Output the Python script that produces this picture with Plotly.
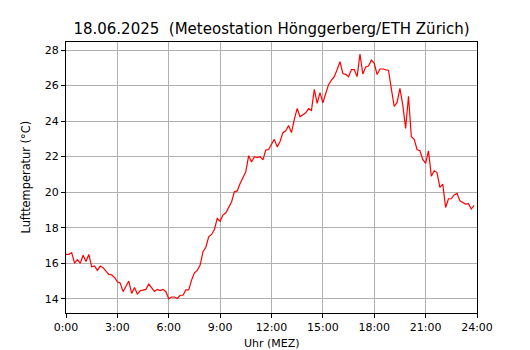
import plotly.graph_objects as go

# 10-minute temperature readings, 0:00 .. 23:50 (one row per hour)
temps_by_hour = [
    [16.5, 16.5, 16.6, 16.0, 16.2, 16.0],        # 0
    [16.45, 16.1, 16.5, 15.8, 15.85, 15.6],      # 1
    [15.84, 15.75, 15.56, 15.37, 15.35, 15.2],   # 2
    [14.96, 14.88, 14.4, 14.75, 15.0, 14.3],     # 3
    [14.64, 14.27, 14.45, 14.49, 14.53, 14.83],  # 4
    [14.64, 14.42, 14.53, 14.46, 14.53, 14.4],   # 5
    [14.0, 14.1, 14.1, 14.02, 14.2, 14.2],       # 6
    [14.5, 14.5, 15.05, 15.46, 15.6, 15.9],      # 7
    [16.65, 16.9, 17.49, 17.62, 17.9, 18.52],    # 8
    [18.37, 18.71, 18.84, 19.18, 19.45, 20.02],  # 9
    [20.07, 20.49, 20.78, 21.15, 22.05, 21.7],   # 10
    [22.0, 21.95, 22.0, 21.82, 22.37, 22.4],     # 11
    [22.7, 22.97, 22.55, 22.85, 23.35, 23.45],   # 12
    [23.75, 23.35, 24.1, 24.71, 24.24, 24.35],   # 13
    [24.47, 24.7, 24.6, 25.78, 25.0, 25.6],      # 14
    [25.03, 25.55, 26.05, 26.3, 26.5, 26.9],     # 15
    [27.34, 26.68, 26.63, 26.5, 26.9, 26.9],     # 16
    [26.5, 27.77, 26.65, 27.04, 27.1, 27.43],    # 17
    [27.25, 26.62, 26.93, 26.93, 26.9, 26.85],   # 18
    [25.8, 24.82, 25.05, 25.84, 24.9, 23.59],    # 19
    [25.4, 23.12, 22.97, 22.4, 22.33, 21.84],    # 20
    [21.62, 22.33, 20.9, 21.2, 21.1, 20.27],     # 21
    [20.45, 19.14, 19.63, 19.63, 19.84, 19.93],  # 22
    [19.51, 19.42, 19.33, 19.35, 19.05, 19.25],  # 23
]
temperatures = [v for row in temps_by_hour for v in row]
hours = [i / 6 for i in range(len(temperatures))]

x_tick_vals = [0, 3, 6, 9, 12, 15, 18, 21, 24]
x_tick_text = ["0:00", "3:00", "6:00", "9:00", "12:00", "15:00", "18:00", "21:00", "24:00"]
y_tick_vals = [14, 16, 18, 20, 22, 24, 26, 28]

title_text = "18.06.2025  (Meteostation Hönggerberg/ETH Zürich)"
x_label = "Uhr (MEZ)"
y_label = "Lufttemperatur (°C)"

FONT = "DejaVu Sans"

fig = go.Figure()
fig.add_trace(go.Scatter(
    x=hours, y=temperatures, mode="lines",
    line=dict(color="#ff0000", width=1.2),
    hoverinfo="skip", showlegend=False,
))

axis_common = dict(
    showgrid=True, gridcolor="#b0b0b0", gridwidth=1,
    showline=True, linecolor="black", linewidth=1, mirror=True,
    ticks="outside", ticklen=4, tickwidth=1, tickcolor="black",
    tickfont=dict(family=FONT, size=11, color="black"),
    zeroline=False,
)

fig.update_xaxes(range=[0, 24], tickmode="array", tickvals=x_tick_vals,
                 ticktext=x_tick_text, **axis_common)
fig.update_yaxes(range=[13.2, 28.45], tickmode="array", tickvals=y_tick_vals,
                 **axis_common)

plot_h = 350 - 42 - 37
plot_w = 530 - 66 - 53

fig.update_layout(
    width=530, height=350,
    margin=dict(l=66, r=53, t=42, b=37, autoexpand=False),
    paper_bgcolor="white", plot_bgcolor="white",
    title=dict(text=title_text, x=0.5, xref="paper", xanchor="center",
               y=1 - 29 / 350, yref="container", yanchor="middle",
               font=dict(family=FONT, size=15, color="black")),
    annotations=[
        dict(text=x_label, xref="paper", yref="paper", x=0.5,
             y=-(343 - 313) / plot_h, yanchor="middle", xanchor="center",
             showarrow=False,
             font=dict(family=FONT, size=11, color="black")),
        dict(text=y_label, xref="paper", yref="paper", x=-(66 - 25) / plot_w,
             y=0.5, xanchor="center", yanchor="middle", textangle=-90,
             showarrow=False,
             font=dict(family=FONT, size=11.4, color="black")),
    ],
)

fig.write_html("out.html",
               config={"displayModeBar": False, "staticPlot": True},
               post_script="document.body.style.margin='0';document.body.style.padding='0';")
